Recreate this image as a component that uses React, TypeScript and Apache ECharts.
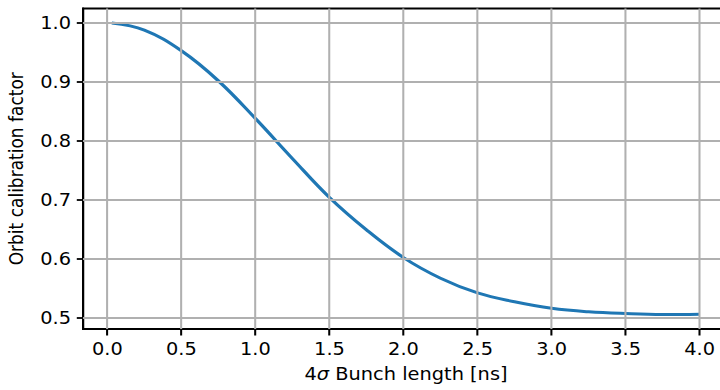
import React, { useEffect, useRef } from "react";
import * as echarts from "echarts";

// Bunch length (4σ, ns) and the corresponding orbit calibration factor
const bunchLength = [0.03, 0.25, 0.5, 0.75, 1.0, 1.25, 1.5, 1.75, 2.0, 2.25, 2.5, 2.75, 3.0, 3.25, 3.5, 3.75, 4.0];
const calibFactor = [1.0, 0.988, 0.953, 0.902, 0.838, 0.77, 0.704, 0.649, 0.602, 0.567, 0.542, 0.527, 0.516, 0.51, 0.507, 0.5055, 0.506];

const xTicks = [0.0, 0.5, 1.0, 1.5, 2.0, 2.5, 3.0, 3.5, 4.0];
const yTicks = [0.5, 0.6, 0.7, 0.8, 0.9, 1.0];

const FONT = "DejaVu Sans";
const FS = 17;

// The figure is laid out on a narrower canvas and stretched to the page width.
const PAGE_W = 720;
const CHART_W = 632;
const STRETCH = PAGE_W / CHART_W;

export default function App() {
  const ref = useRef<HTMLDivElement>(null);

  useEffect(() => {
    if (!ref.current) return;
    const chart = echarts.init(ref.current, undefined, { renderer: "svg" });

    const gridLine = { color: "#b0b0b0", width: 1.8, type: "solid" as const };
    const tickStyle = { show: true, inside: false, length: 6.5, lineStyle: { color: "#000", width: 1.8 } };
    const labelStyle = { fontFamily: FONT, fontSize: FS, color: "#000" };

    chart.setOption({
      animation: false,
      backgroundColor: "#fff",
      grid: {
        left: 72.9,
        top: 8.5,
        right: -7.9,
        bottom: 61,
        outerBoundsMode: "none",
        containLabel: false,
        show: true,
        borderColor: "#000",
        borderWidth: 1.8,
        backgroundColor: "transparent",
      },
      xAxis: {
        type: "value",
        min: -0.164,
        max: 4.198,
        name: "4{s|σ} Bunch length [ns]",
        nameLocation: "middle",
        nameGap: 36,
        nameTextStyle: {
          ...labelStyle,
          rich: { s: { ...labelStyle, fontStyle: "italic" } },
        },
        axisLine: { show: true, onZero: false, lineStyle: { color: "#000", width: 1.8 } },
        axisTick: { ...tickStyle, customValues: xTicks },
        axisLabel: {
          ...labelStyle,
          customValues: xTicks,
          formatter: (v: number) => v.toFixed(1),
          margin: 11,
        },
        splitLine: { show: false },
      },
      yAxis: {
        type: "value",
        min: 0.4808,
        max: 1.0248,
        name: "Orbit calibration factor",
        nameLocation: "middle",
        nameGap: 50,
        nameTextStyle: labelStyle,
        axisLine: { show: true, onZero: false, lineStyle: { color: "#000", width: 1.8 } },
        axisTick: { ...tickStyle, length: 5.5, customValues: yTicks },
        axisLabel: {
          ...labelStyle,
          customValues: yTicks,
          formatter: (v: number) => v.toFixed(1),
          margin: 10.5,
        },
        splitLine: { show: false },
      },
      series: [
        {
          // grid lines at the tick positions
          type: "line",
          data: [],
          z: 1,
          silent: true,
          markLine: {
            silent: true,
            symbol: ["none", "none"],
            label: { show: false },
            lineStyle: gridLine,
            animation: false,
            data: [
              ...xTicks.map((v) => ({ xAxis: v })),
              ...yTicks.map((v) => ({ yAxis: v })),
            ],
          },
        },
        {
          type: "line",
          z: 3,
          data: bunchLength.map((x, i) => [x, calibFactor[i]]),
          showSymbol: false,
          smooth: 0.4,
          lineStyle: { color: "#1f77b4", width: 3 },
          itemStyle: { color: "#1f77b4" },
        },
      ],
    });

    return () => chart.dispose();
  }, []);

  return (
    <div
      ref={ref}
      style={{
        position: "fixed",
        left: 0,
        top: 0,
        width: CHART_W,
        height: 390,
        transform: `scaleX(${STRETCH})`,
        transformOrigin: "0 0",
      }}
    />
  );
}
